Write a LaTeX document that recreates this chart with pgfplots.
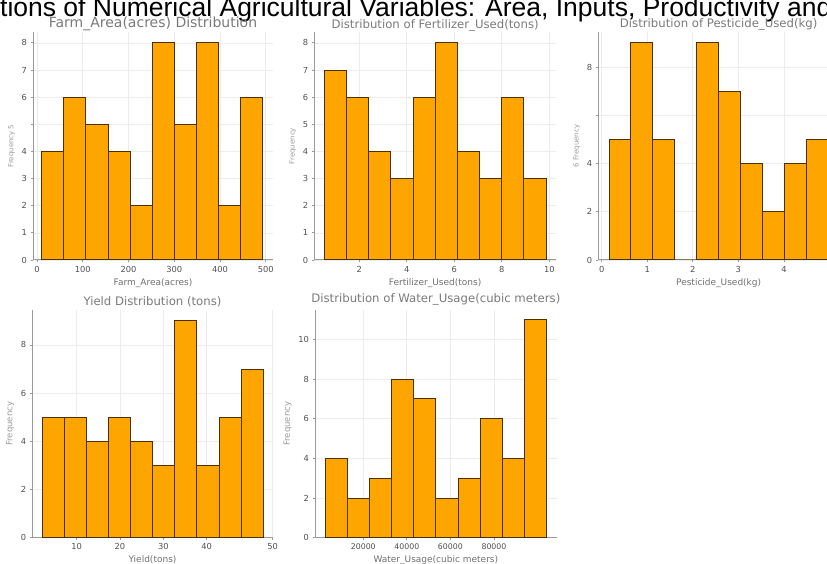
\documentclass[border=0pt]{standalone}
\usepackage{pgfplots}
\pgfplotsset{compat=1.18}
\usepackage{fontspec}
\setmainfont{DejaVu Sans}
\newfontfamily\supfont{Liberation Sans}
\definecolor{barfill}{HTML}{FFA500}
\definecolor{baredge}{HTML}{4A3200}
\definecolor{titlegray}{HTML}{7A7A7A}
\definecolor{labgray}{HTML}{707070}
\definecolor{ylabgray}{HTML}{9A9A9A}
\definecolor{tickgray}{HTML}{505050}
\definecolor{spinegray}{HTML}{9A9A9A}
\definecolor{gridgray}{HTML}{ECECEC}
\newlength\prefw
\pgfplotsset{
  histstyle/.style={
    scale only axis,
    axis lines*=left,
    ymin=0,
    xmajorgrids, ymajorgrids,
    grid style={gridgray, line width=0.7pt},
    axis line style={spinegray, line width=1pt},
    tick style={spinegray, line width=0.8pt},
    tick align=outside,
    major tick length=2.5pt,
    tick label style={font=\fontsize{8.3}{9}\selectfont, text=tickgray},
    /pgf/number format/assume math mode=true,
    /pgf/number format/1000 sep={},
    scaled x ticks=false,
    scaled y ticks=false,
    xlabel style={font=\fontsize{9}{10}\selectfont, text=labgray, yshift=1pt},
    ylabel style={font=\fontsize{7}{8}\selectfont, text=ylabgray},
    title style={text=titlegray, font=\fontsize{11.7}{12}\selectfont, yshift=-8pt},
  },
  bars/.style={ybar interval, fill=barfill, draw=baredge, line width=1pt},
}
\begin{document}%
\settowidth\prefw{\supfont\fontsize{26.5}{27}\selectfont Distribu}%
\begin{tikzpicture}
\path[use as bounding box] (0pt,0pt) rectangle (827pt,563pt);
\clip (0pt,0pt) rectangle (827pt,563pt);
\node[anchor=base west, inner sep=0pt, font=\supfont\fontsize{26.5}{27}\selectfont]
  at (-\prefw,546.5pt) {Distributions of Numerical Agricultural Variables: Area, Inputs, Productivity and Resources};

% Panel 1: Farm area
\begin{axis}[histstyle, at={(33pt,303pt)}, anchor=south west, width=240pt, height=228pt,
  xmin=-9, xmax=516, ymax=8.4,
  xtick={0,100,200,300,400,500},
  ytick={0,1,2,3,4,5,6,7,8}, yticklabels={0,1,2,3,4,,6,7,8},
  title={Farm\_Area(acres) Distribution},
  title style={font=\fontsize{14}{15}\selectfont},
  xlabel={Farm\_Area(acres)}, ylabel={Frequency 5}]
\addplot[bars] coordinates {(10.3,4) (58.6,6) (106.8,5) (155.1,4) (203.4,2) (251.7,8) (299.9,5) (348.2,8) (396.5,2) (444.7,6) (493.0,6)};
\end{axis}

% Panel 2: Fertilizer
\begin{axis}[histstyle, at={(314.3pt,303pt)}, anchor=south west, width=241.7pt, height=228pt,
  xmin=0.105, xmax=10.28, ymax=8.4,
  xtick={2,4,6,8,10}, ytick={0,1,2,3,4,5,6,7,8},
  title={Distribution of Fertilizer\_Used(tons)},
  title style={yshift=-1pt},
  xlabel={Fertilizer\_Used(tons)}, ylabel={Frequency}]
\addplot[bars] coordinates {(0.53,7) (1.46,6) (2.40,4) (3.33,3) (4.26,6) (5.20,8) (6.13,4) (7.06,3) (7.99,6) (8.93,3) (9.86,3)};
\end{axis}

% Panel 3: Pesticide
\begin{axis}[histstyle, at={(598.3pt,303pt)}, anchor=south west, width=240.7pt, height=228pt,
  xmin=-0.075, xmax=5.21, ymax=9.45,
  xtick={0,1,2,3,4,5}, ytick={0,2,4,6,8}, yticklabels={0,2,4,,8},
  title={Distribution of Pesticide\_Used(kg)},
  xlabel={Pesticide\_Used(kg)}, ylabel={6 Frequency}]
\addplot[bars] coordinates {(0.16,5) (0.64,9) (1.12,5) (1.60,0) (2.08,9) (2.57,7) (3.05,4) (3.53,2) (4.01,4) (4.49,5) (4.97,5)};
\end{axis}

% Panel 4: Yield
\begin{axis}[histstyle, at={(32.3pt,25.3pt)}, anchor=south west, width=240.4pt, height=227.7pt,
  xmin=-0.2, xmax=55.2, ymax=9.45,
  xtick={10,20,30,40,55.2}, xticklabels={10,20,30,40,50}, ytick={0,2,4,6,8},
  title={Yield Distribution (tons)},
  title style={yshift=1pt},
  xlabel={Yield(tons)}, ylabel={Frequency},
  ylabel style={font=\fontsize{8.5}{9}\selectfont}]
\addplot[bars] coordinates {(2.13,5) (7.22,5) (12.30,4) (17.39,5) (22.48,4) (27.57,3) (32.65,9) (37.74,3) (42.83,5) (47.91,7) (53.0,7)};
\end{axis}

% Panel 5: Water usage
\begin{axis}[histstyle, at={(315pt,25.3pt)}, anchor=south west, width=241.7pt, height=227.7pt,
  xmin=-2160, xmax=108800, ymax=11.48,
  xtick={20000,40000,60000,80000}, ytick={0,2,4,6,8,10},
  xticklabel style={font=\fontsize{7.8}{8}\selectfont},
  title={Distribution of Water\_Usage(cubic meters)},
  title style={yshift=3pt},
  xlabel={Water\_Usage(cubic meters)}, ylabel={Frequency},
  ylabel style={font=\fontsize{8.5}{9}\selectfont}]
\addplot[bars] coordinates {(2430,4) (12607,2) (22784,3) (32961,8) (43138,7) (53315,2) (63492,3) (73669,6) (83846,4) (94023,11) (104200,11)};
\end{axis}
\end{tikzpicture}%
\end{document}
